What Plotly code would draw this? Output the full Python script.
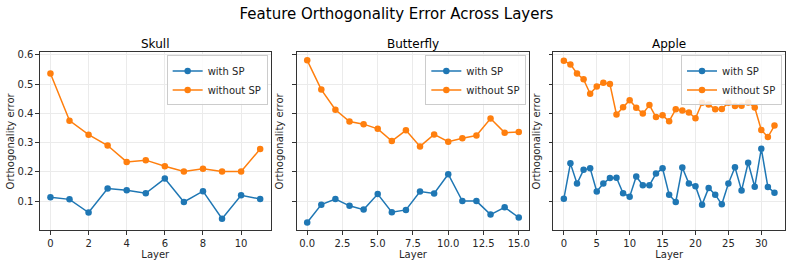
import plotly.graph_objects as go

titles = ["Skull", "Butterfly", "Apple"]

skull_with = [0.113, 0.106, 0.061, 0.143, 0.137, 0.127, 0.177, 0.097, 0.134, 0.040, 0.120, 0.107]
skull_without = [0.536, 0.375, 0.327, 0.290, 0.234, 0.240, 0.219, 0.201, 0.211, 0.201, 0.201, 0.278]

butterfly_with = [0.027, 0.088, 0.107, 0.084, 0.071, 0.124, 0.062, 0.070, 0.133, 0.126, 0.192, 0.100,
                  0.100, 0.054, 0.079, 0.044]
butterfly_without = [0.581, 0.481, 0.412, 0.372, 0.363, 0.347, 0.305, 0.342, 0.287, 0.328, 0.303, 0.315,
                     0.324, 0.382, 0.334, 0.336]

apple_with = [0.108, 0.229, 0.160, 0.207, 0.212, 0.133, 0.160, 0.179, 0.180, 0.127, 0.115, 0.184,
              0.154, 0.154, 0.194, 0.212, 0.122, 0.097, 0.215, 0.160, 0.151, 0.088, 0.145, 0.122,
              0.089, 0.160, 0.216, 0.136, 0.231, 0.149, 0.279, 0.148, 0.129]
apple_without = [0.580, 0.567, 0.536, 0.516, 0.467, 0.492, 0.504, 0.500, 0.396, 0.421, 0.445, 0.419,
                 0.399, 0.428, 0.387, 0.393, 0.373, 0.414, 0.410, 0.403, 0.383, 0.436, 0.430, 0.414,
                 0.415, 0.436, 0.425, 0.426, 0.437, 0.420, 0.343, 0.319, 0.358]

y_ticks = [0.1, 0.2, 0.3, 0.4, 0.5, 0.6]
series = [(skull_with, skull_without), (butterfly_with, butterfly_without), (apple_with, apple_without)]

BLUE = "#1f77b4"
ORANGE = "#ff7f0e"
FONT = "DejaVu Sans"
W, H = 793, 265

# axes pixel extents
x_px = [(40, 271), (297, 530), (554, 786)]
y_top, y_bot = 50, 230

fig = go.Figure()
layout = dict(
    width=W, height=H,
    margin=dict(l=0, r=0, t=0, b=0),
    paper_bgcolor="white", plot_bgcolor="white",
    font=dict(family=FONT, size=10, color="#262626"),
    showlegend=True,
    title=dict(text="Feature Orthogonality Error Across Layers", x=0.5, xanchor="center",
               y=1 - 14 / H, yanchor="middle", font=dict(size=15, color="black")),
    annotations=[],
)

for i, (title, (w, wo)) in enumerate(zip(titles, series)):
    n = len(w)
    xs = list(range(n))
    sfx = "" if i == 0 else str(i + 1)
    lg = "legend" if i == 0 else f"legend{i + 1}"
    for vals, name, col in [(w, "with SP", BLUE), (wo, "without SP", ORANGE)]:
        fig.add_trace(go.Scatter(
            x=xs, y=vals, mode="lines+markers", name=name,
            line=dict(color=col, width=1.5),
            marker=dict(color=col, size=6.5),
            xaxis="x" + sfx, yaxis="y" + sfx, legend=lg,
        ))
    x0, x1 = x_px[i]
    span = n - 1
    pad = span * 0.05
    layout["xaxis" + sfx] = dict(
        domain=[x0 / W, x1 / W], anchor="y" + sfx,
        range=[-pad, span + pad],
        showline=True, linecolor="#333", linewidth=1, mirror=True,
        ticks="outside", ticklen=3.5, tickcolor="#333",
        showgrid=True, gridcolor="#ebebeb", gridwidth=1, zeroline=False,
        title=dict(text="Layer", font=dict(size=10), standoff=3),
        tickfont=dict(size=10),
    )
    if i == 1:
        layout["xaxis" + sfx]["tickvals"] = [0, 2.5, 5, 7.5, 10, 12.5, 15]
        layout["xaxis" + sfx]["ticktext"] = ["0.0", "2.5", "5.0", "7.5", "10.0", "12.5", "15.0"]
    elif i == 0:
        layout["xaxis" + sfx]["tickvals"] = [0, 2, 4, 6, 8, 10]
    else:
        layout["xaxis" + sfx]["tickvals"] = [0, 5, 10, 15, 20, 25, 30]
    layout["yaxis" + sfx] = dict(
        domain=[1 - y_bot / H, 1 - y_top / H], anchor="x" + sfx,
        range=[0.0, 0.608],
        tickvals=y_ticks, ticktext=[f"{v:.1f}" for v in y_ticks],
        showticklabels=(i == 0),
        showline=True, linecolor="#333", linewidth=1, mirror=True,
        ticks="outside", ticklen=3.5, tickcolor="#333",
        showgrid=True, gridcolor="#ebebeb", gridwidth=1, zeroline=False,
        title=dict(text="Orthogonality error", font=dict(size=10), standoff=1 if i == 0 else 6),
        tickfont=dict(size=10),
    )
    layout[lg] = dict(
        x=(x1 - 3) / W, y=1 - (y_top + 3) / H, xanchor="right", yanchor="top",
        xref="paper", yref="paper",
        bgcolor="rgba(255,255,255,0.85)", bordercolor="#cccccc", borderwidth=1,
        font=dict(size=10, color="#262626"), itemwidth=30, tracegroupgap=0,
    )
    layout["annotations"].append(dict(
        text=title, x=(x0 + x1) / 2 / W, y=1 - 41 / H, xref="paper", yref="paper",
        xanchor="center", yanchor="middle", showarrow=False, font=dict(size=12, color="black"),
    ))

fig.update_layout(**layout)
fig.write_html("out.html")
